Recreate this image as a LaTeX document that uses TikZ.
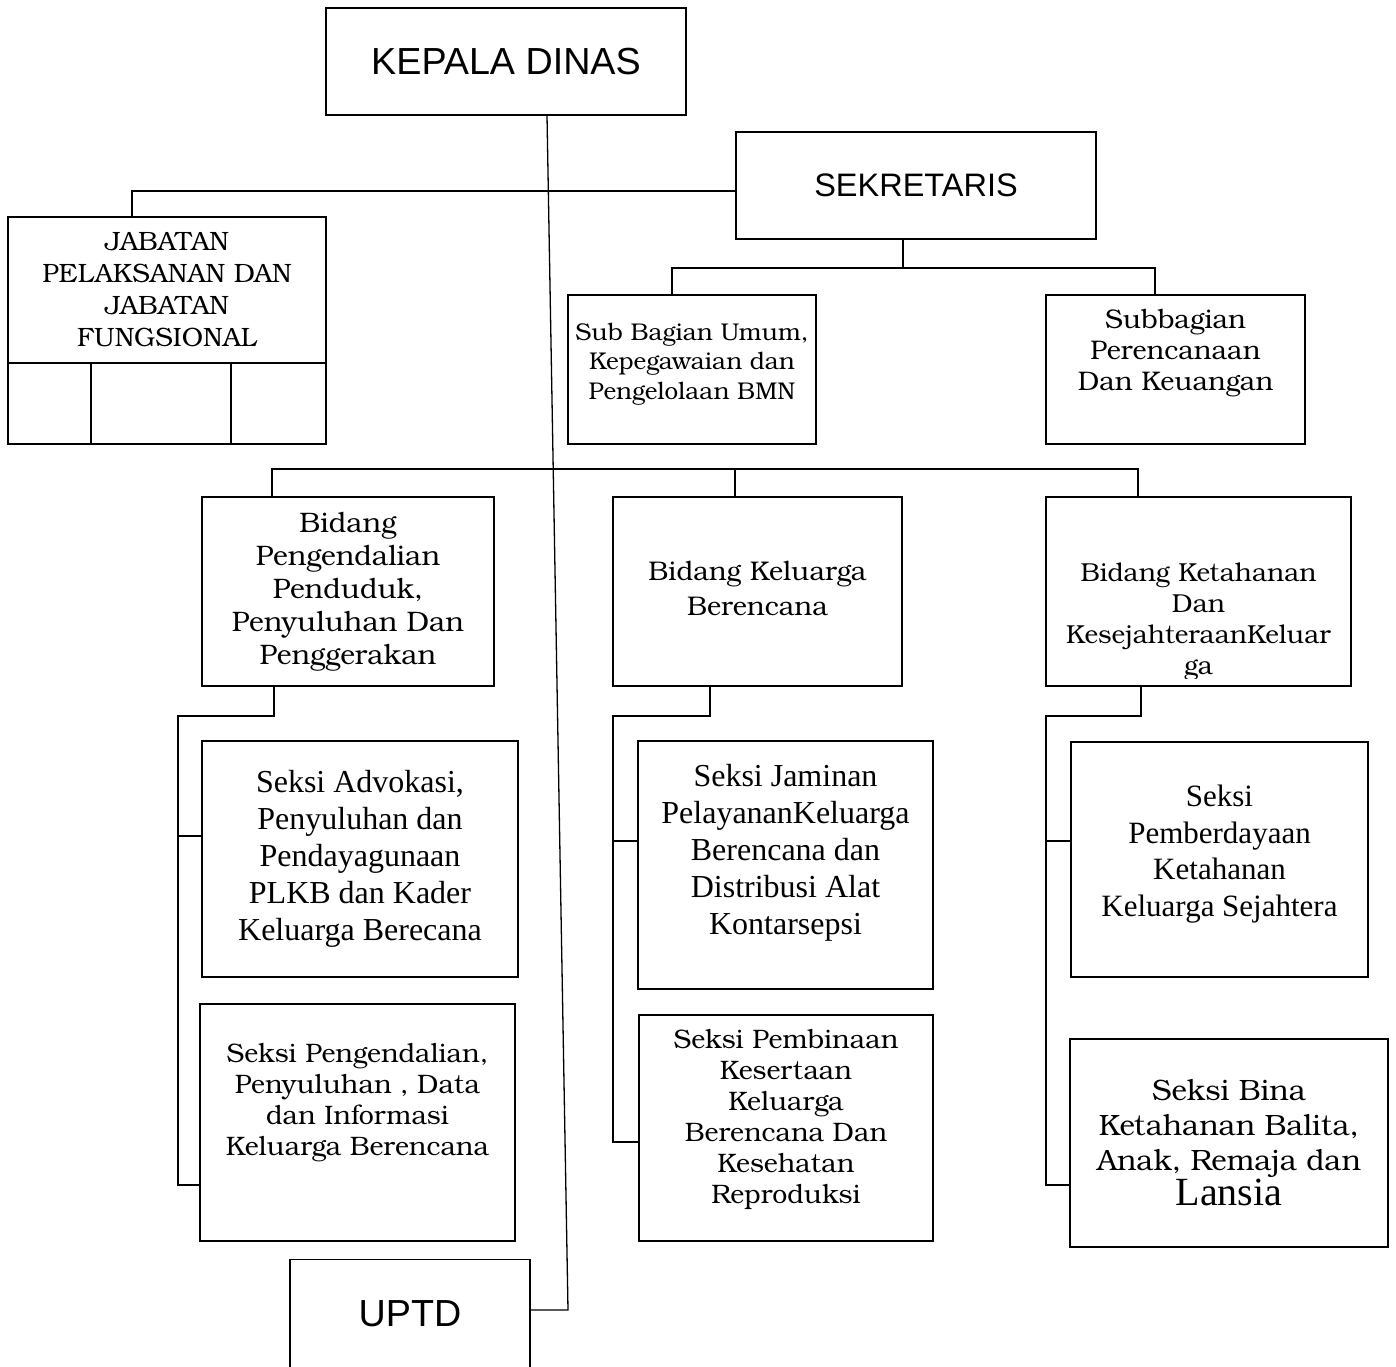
\documentclass[tikz,border=0pt]{standalone}
\usepackage{fontspec}
\setmainfont{Liberation Serif}
\newfontfamily\arialf{Liberation Sans}
\newfontfamily\bookf{TeX Gyre Bonum}

\newcommand{\bk}[2]{\fontsize{#1}{#2}\selectfont\bookf}
\newcommand{\tm}[2]{\fontsize{#1}{#2}\selectfont\rmfamily}
\newcommand{\sa}[1]{\fontsize{#1}{#1}\selectfont\arialf}

\tikzset{
  box/.style={draw, rectangle, inner sep=0pt, align=center},
  txt/.style={inner sep=0pt, align=center}
}

\begin{document}
\begin{tikzpicture}[x=1pt, y=-1pt, line width=1.3pt]
\useasboundingbox (0,0) rectangle (1396,1366);

% kepala dan sekretaris
\node[box, minimum width=360, minimum height=107, font=\sa{37.7}] (kepala) at (506,61.5) {KEPALA DINAS};
\node[box, minimum width=360, minimum height=107, font=\sa{32.5}] (sek) at (916,185.5) {SEKRETARIS};

% jabatan
\node[box, minimum width=318, minimum height=146, font=\bk{26.5}{32}] (jab) at (167,290)
  {JABATAN\\PELAKSANAN DAN\\JABATAN\\FUNGSIONAL};
\foreach \a/\b in {8/91, 91/231, 231/326}
  \draw (\a,363) rectangle (\b,444);

% subbagian
\node[box, minimum width=248, minimum height=149] (subumum) at (692,369.5) {};
\node[txt, font=\bk{24.2}{29.5}] at ([yshift=5.5]subumum.center)
  {Sub Bagian Umum,\\Kepegawaian dan\\Pengelolaan BMN};
\node[box, minimum width=259, minimum height=149] (subren) at (1175.5,369.5) {};
\node[txt, font=\bk{26.9}{31}] at ([yshift=16.5]subren.center)
  {Subbagian\\Perencanaan\\Dan Keuangan};

% bidang
\node[box, minimum width=292, minimum height=189, font=\bk{28.2}{33}] (bidpp) at (348,591.5)
  {Bidang\\Pengendalian\\Penduduk,\\Penyuluhan Dan\\Penggerakan};
\node[box, minimum width=289, minimum height=189] (bidkb) at (757.5,591.5) {};
\node[txt, font=\bk{27}{35}] at ([yshift=3.5]bidkb.center) {Bidang Keluarga\\Berencana};
\node[box, minimum width=305, minimum height=189] (bidks) at (1198.5,591.5) {};
\begin{scope}
  \clip ([yshift=8]bidks.south west) rectangle (bidks.north east);
  \node[txt, font=\bk{26}{31}] at ([yshift=-30.5]bidks.center)
    {Bidang Ketahanan\\Dan\\KesejahteraanKeluar\\ga};
\end{scope}

% seksi
\node[box, minimum width=316, minimum height=236, font=\tm{32}{37}] (sadv) at (360,859)
  {Seksi Advokasi,\\Penyuluhan dan\\Pendayagunaan\\PLKB dan Kader\\Keluarga Berecana};
\node[box, minimum width=315, minimum height=237] (spdi) at (357.5,1122.5) {};
\node[txt, font=\bk{26.7}{31}] at ([yshift=19.5]spdi.center)
  {Seksi Pengendalian,\\Penyuluhan , Data\\dan Informasi\\Keluarga Berencana};
\node[box, minimum width=295, minimum height=248] (sjam) at (785.5,865) {};
\node[txt, font=\tm{32}{37}] at ([yshift=12.5]sjam.center)
  {Seksi Jaminan\\PelayananKeluarga\\Berencana dan\\Distribusi Alat\\Kontarsepsi};
\node[box, minimum width=294, minimum height=226] (spem) at (786,1128) {};
\node[txt, font=\bk{26.7}{31}] at ([yshift=8.5]spem.center)
  {Seksi Pembinaan\\Kesertaan\\Keluarga\\Berencana Dan\\Kesehatan\\Reproduksi};
\node[box, minimum width=297, minimum height=235] (sket) at (1219.5,859.5) {};
\node[txt, font=\tm{31}{36.5}] at ([yshift=5.5]sket.center)
  {Seksi\\Pemberdayaan\\Ketahanan\\Keluarga Sejahtera};
\node[box, minimum width=318, minimum height=208, font=\bk{29.4}{35}] (sbina) at (1229,1143)
  {Seksi Bina\\Ketahanan Balita,\\Anak, Remaja dan\\{\tm{40}{35}Lansia}};

% uptd
\node[box, minimum width=240, minimum height=108, anchor=north, font=\sa{37.7}] (uptd) at (410,1259) {UPTD};

% garis
\draw (547,0 |- kepala.south) -- (568,1310) -- (568,1310 -| uptd.east);
\draw (sek.west |- 0,191) -- (132,191) -- (132,0 |- jab.north);
\draw (903,0 |- sek.south) -- (903,268);
\draw (672,0 |- subumum.north) |- (1155,268) -- (1155,0 |- subren.north);
\draw (272,0 |- bidpp.north) |- (1138,469) -- (1138,0 |- bidks.north);
\draw (735,469) -- (735,0 |- bidkb.north);
\foreach \bid/\up/\dn/\px/\lx/\ya/\yb in {bidpp/sadv/spdi/274/178/836/1185,
    bidkb/sjam/spem/710/613/841/1142, bidks/sket/sbina/1141/1046/841/1185} {
  \draw (\px,0 |- \bid.south) -- (\px,716) -- (\lx,716) -- (\lx,\yb) -- (\lx,\yb -| \dn.west);
  \draw (\lx,\ya) -- (\lx,\ya -| \up.west);
}

\end{tikzpicture}
\end{document}
